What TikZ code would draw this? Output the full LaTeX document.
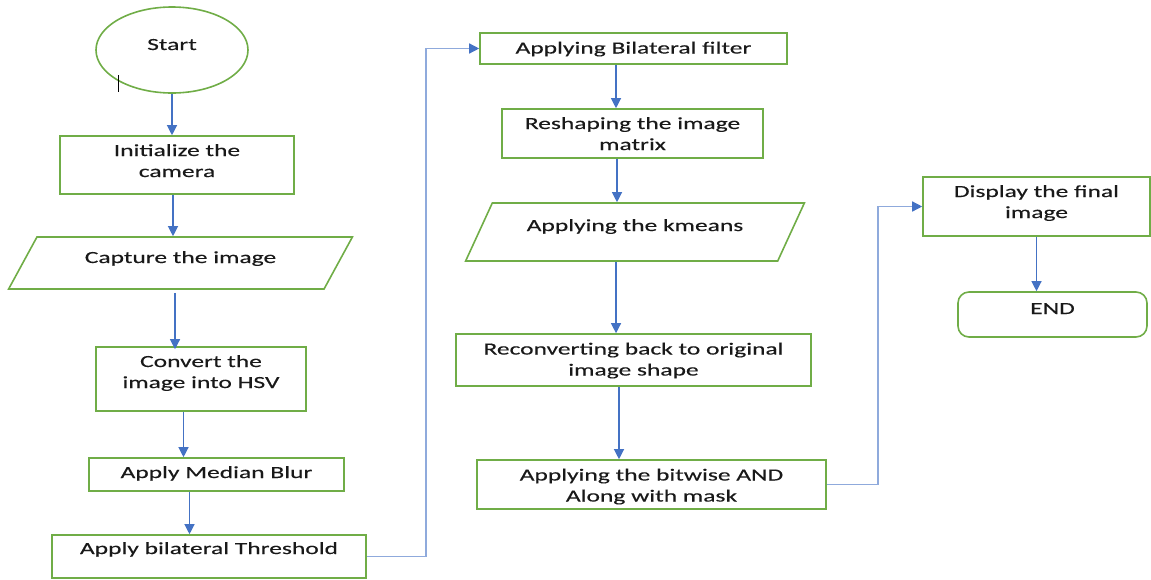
\documentclass[tikz,border=0pt]{standalone}
\usepackage{fontspec}
\setmainfont{Carlito}[FakeStretch=1.5, FakeBold=0.3]
\usepackage{tikz}
\usetikzlibrary{shapes.geometric,arrows.meta}
\definecolor{boxgreen}{HTML}{70AD47}
\definecolor{arrblue}{HTML}{4472C4}
\definecolor{linkblue}{HTML}{8FAADC}
\tikzstyle{blk} = [draw=boxgreen, line width=1.6pt, inner sep=0pt, align=center, text=black!90, font=\fontsize{17}{21}\selectfont, text height=14pt, text depth=4pt]
\tikzstyle{two} = [text height=35pt]
\tikzstyle{proc} = [blk, rectangle]
\tikzstyle{io} = [blk, trapezium, trapezium left angle=56, trapezium right angle=124, trapezium stretches=true]
\tikzstyle{term} = [blk, rectangle, rounded corners=11pt]
\tikzstyle{oval} = [blk, ellipse]
\tikzstyle{arr} = [draw=arrblue, line width=1.2pt, -{Triangle[length=10pt,width=10pt]}]
\tikzstyle{conn} = [draw=linkblue, line width=1.4pt, -{Triangle[length=10pt,width=10pt,color=arrblue]}]

\begin{document}
\begin{tikzpicture}[x=1pt, y=-1pt]
\useasboundingbox (0,0) rectangle (1151,579);
% left column
\node(start)[oval, minimum width=152pt, minimum height=86pt, text depth=14pt] at (172,50) {Start};
\node(init)[proc, two, minimum width=234pt, minimum height=58pt, text depth=11pt] at (177,165) {Initialize the\\camera};
\node(cap)[io, minimum width=345pt, minimum height=52pt, text depth=14pt] at (180.5,263) {Capture the image};
\node(hsv)[proc, two, minimum width=210pt, minimum height=64pt, text depth=17pt] at (201,379) {Convert the\\image into HSV};
\node(blur)[proc, minimum width=255pt, minimum height=33pt, text depth=7pt] at (216.5,474.5) {Apply Median Blur};
\node(thr)[proc, minimum width=314pt, minimum height=43pt, text depth=19pt] at (209,556.5) {Apply bilateral Threshold};
% middle column
\node(bil)[proc, minimum width=307pt, minimum height=31pt] at (633.5,48.5) {Applying Bilateral filter};
\node(resh)[proc, minimum width=261pt, minimum height=49pt, text height=37pt] at (632.5,133.5) {Reshaping the image\\matrix};
\node(km)[io, minimum width=340pt, minimum height=58pt, text depth=16pt] at (635,232) {Applying the kmeans};
\node(recon)[proc, two, minimum width=355pt, minimum height=52pt] at (633.5,360) {Reconverting back to original\\image shape};
\node(band)[proc, minimum width=349pt, minimum height=49pt, text height=38pt] at (651.5,484.5) {Applying the bitwise AND\\Along with mask};
% right column
\node(disp)[proc, two, minimum width=227pt, minimum height=59pt, text depth=12pt] at (1036.5,206.5) {Display the final\\image};
\node(end)[term, minimum width=189pt, minimum height=45pt, text depth=15pt] at (1052.5,314.5) {END};

\draw[black, line width=1pt] (118,75) -- (118,92);

\draw[arr](start.south) -- (start.south |- init.north);
\draw[arr]([xshift=-4pt]init.south) -- ([xshift=-4pt]init.south |- cap.north);
\draw[arr]([xshift=-5.5pt,yshift=-3pt]cap.south) -- ([xshift=-5.5pt,yshift=-3pt]cap.south |- hsv.north);
\draw[arr]([xshift=-17.5pt]hsv.south) -- ([xshift=-17.5pt]hsv.south |- blur.north);
\draw[arr]([xshift=-27pt]blur.south) -- ([xshift=-27pt]blur.south |- thr.north);
\draw[conn](thr.east) -- ++(59,0) |- (bil.west);
\draw[arr]([xshift=-17.5pt]bil.south) -- ([xshift=-17.5pt]bil.south |- resh.north);
\draw[arr]([xshift=-15.5pt]resh.south) -- ([xshift=-15.5pt]resh.south |- km.north);
\draw[arr]([xshift=-19pt]km.south) -- ([xshift=-19pt]km.south |- recon.north);
\draw[arr]([xshift=-14.5pt]recon.south) -- ([xshift=-14.5pt]recon.south |- band.north);
\draw[conn](band.east) -- ++(51,0) |- (disp.west);
\draw[arr](disp.south) -- (disp.south |- end.north);
\end{tikzpicture}
\end{document}
